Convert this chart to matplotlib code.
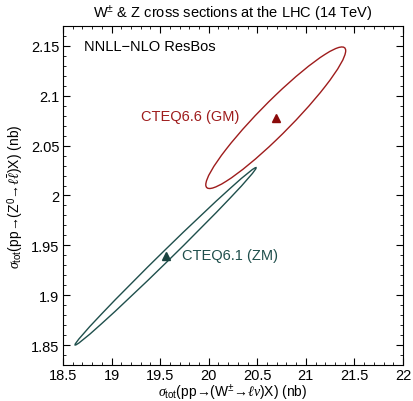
import numpy as np
import matplotlib
matplotlib.use("Agg")
import matplotlib.pyplot as plt
from matplotlib.patches import Ellipse
from matplotlib.ticker import MultipleLocator

plt.rcParams['font.family'] = ['Liberation Sans', 'DejaVu Sans']
plt.rcParams['mathtext.fontset'] = 'custom'
plt.rcParams['mathtext.rm'] = 'Liberation Sans'
plt.rcParams['mathtext.it'] = 'Liberation Serif:italic'
plt.rcParams['mathtext.fallback'] = 'stix'

# data: PDF sets, central values and uncertainty ellipse parameters
sets = ["CTEQ6.6 (GM)", "CTEQ6.1 (ZM)"]
sigma_W = [20.69, 19.556]      # nb
sigma_Z = [2.078, 1.939]       # nb
err_W = [0.72, 0.932]          # nb
err_Z = [0.071, 0.089]         # nb
corr = [0.947, 0.997]
colors = ["#9e1c1c", "#1f4f4c"]
marker_colors = ["#8b0a0a", "#1a4440"]
label_pos = [(19.3, 2.080), (19.72, 1.940)]

fig = plt.figure(figsize=(4.13, 4.02), dpi=100)
ax = fig.add_axes([0.1525, 0.0896, 0.8233, 0.8432])

for i in range(len(sets)):
    sx, sy, r = err_W[i], err_Z[i], corr[i]
    cov = np.array([[sx**2, r*sx*sy], [r*sx*sy, sy**2]])
    vals, vecs = np.linalg.eigh(cov)
    order = vals.argsort()[::-1]
    vals, vecs = vals[order], vecs[:, order]
    angle = np.degrees(np.arctan2(vecs[1, 0], vecs[0, 0]))
    e = Ellipse((sigma_W[i], sigma_Z[i]), 2*np.sqrt(vals[0]), 2*np.sqrt(vals[1]),
                angle=angle, fill=False, edgecolor=colors[i], lw=1.0)
    ax.add_patch(e)
    ax.plot(sigma_W[i], sigma_Z[i], marker='^', color=marker_colors[i], ms=6, ls='none')
    ax.text(label_pos[i][0], label_pos[i][1], sets[i], color=colors[i], fontsize=10.5,
            va='center', ha='left')

ax.text(18.72, 2.150, "NNLL\u2212NLO ResBos", fontsize=10.5, va='center', ha='left')

ax.set_xlim(18.5, 22)
ax.set_ylim(1.83, 2.17)
ax.xaxis.set_minor_locator(MultipleLocator(0.1))
ax.yaxis.set_minor_locator(MultipleLocator(0.01))
ax.set_xticks([18.5, 19, 19.5, 20, 20.5, 21, 21.5, 22])
ax.set_xticklabels(["18.5", "19", "19.5", "20", "20.5", "21", "21.5", "22"])
ax.set_yticks([1.85, 1.9, 1.95, 2.0, 2.05, 2.1, 2.15])
ax.set_yticklabels(["1.85", "1.9", "1.95", "2", "2.05", "2.1", "2.15"])
ax.tick_params(which='both', direction='in', top=True, right=True, labelsize=10.5, pad=2.5)
ax.tick_params(which='major', length=5, width=0.8)
ax.tick_params(which='minor', length=2.5, width=0.6)

ax.set_xlabel(r"$\mathit{\sigma}_{\mathrm{tot}}$(pp→(W$^{\pm}$→$\ell\mathit{\nu}$)X) (nb)", fontsize=10)
ax.set_ylabel(r"$\mathit{\sigma}_{\mathrm{tot}}$(pp→(Z$^{0}$→$\ell\bar{\ell}$)X) (nb)", fontsize=10)
ax.xaxis.set_label_coords(0.5, -0.05)
ax.yaxis.set_label_coords(-0.108, 0.5)
ax.set_title("W$^{\\pm}$ & Z cross sections at the LHC (14 TeV)", fontsize=10.5, pad=6)

fig.savefig("out.png", dpi=100)
